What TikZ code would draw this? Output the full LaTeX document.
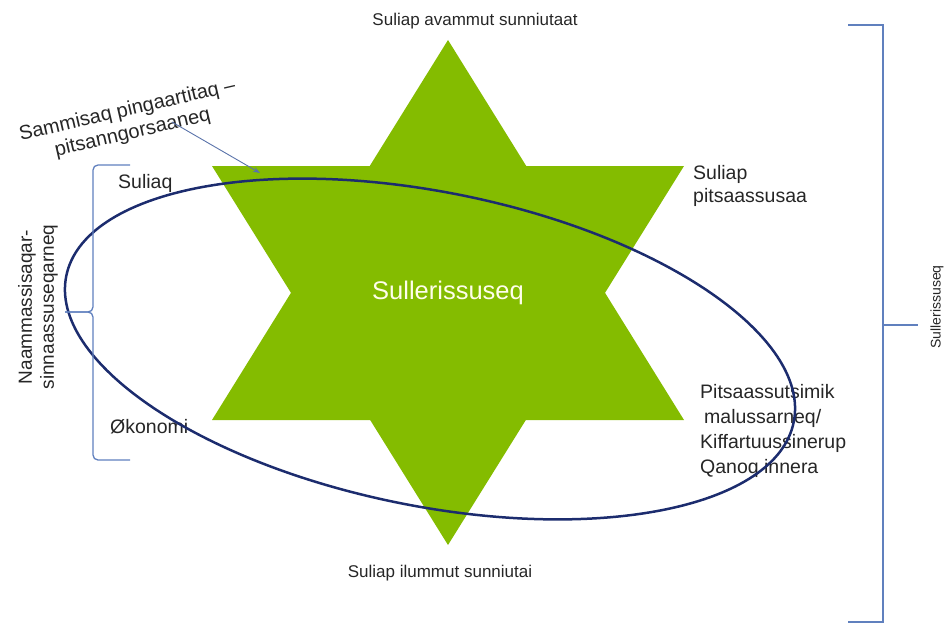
\documentclass[tikz,border=0pt]{standalone}
\usepackage{fontspec}
\setmainfont{Liberation Sans}
\usetikzlibrary{arrows.meta}
\definecolor{stargreen}{RGB}{132,188,0}
\definecolor{ellblue}{RGB}{28,44,110}
\definecolor{brkblue}{RGB}{96,128,190}
\definecolor{arrblue}{RGB}{90,115,170}
\definecolor{txt}{RGB}{38,38,38}
\begin{document}
\begin{tikzpicture}[x=1pt,y=-1pt,
  lbl/.style={inner sep=0pt, text=txt, font=\fontsize{19.5}{24}\selectfont},
  small/.style={inner sep=0pt, text=txt, font=\fontsize{17}{20}\selectfont},
  brk/.style={draw=brkblue, line width=1.3pt},
  pointer/.style={draw=arrblue, line width=0.9pt, -{Stealth[length=7pt,width=5pt]}},
]
\useasboundingbox (0,0) rectangle (948,626);
% star
\fill[stargreen] (448,40) -- (684,420) -- (212,420) -- cycle;
\fill[stargreen] (212,166) -- (684,166) -- (448,545) -- cycle;
% labels
\node[small] (top) at (475,21) {Suliap avammut sunniutaat};
\node[small] (bottom) at (440,573) {Suliap ilummut sunniutai};
\node[lbl, align=left, anchor=west, font=\fontsize{19.5}{23}\selectfont] (quality) at (693,186) {Suliap\\pitsaassusaa};
\node[lbl, align=left, anchor=west, font=\fontsize{19.5}{25}\selectfont] (service) at (700,431) {Pitsaassutsimik\\\hspace{4pt}malussarneq/\\Kiffartuussinerup\\Qanoq innera};
\node[lbl, anchor=west] (suliaq) at (118,183) {Suliaq};
\node[lbl, anchor=west] (okonomi) at (110,427) {Økonomi};
\node[inner sep=0pt, text=white!92!yellow, font=\fontsize{25.5}{30}\selectfont] (core) at (448,293) {Sullerissuseq};
\node[lbl, rotate=90, align=center, font=\fontsize{19}{22}\selectfont] (goal) at (38,307) {Naammassisaqar-\\sinnaassuseqarneq};
\node[small, rotate=90, font=\fontsize{14}{17}\selectfont] (eff) at (937,307) {Sullerissuseq};
\node[lbl, rotate=13, align=center, font=\fontsize{20}{23}\selectfont] (focus) at (130,122) {Sammisaq pingaartitaq –\\pitsanngorsaaneq};
% arrow
\coordinate (astart) at (172,122);
\coordinate (aend) at (260,173);
\draw[pointer] (astart) -- (aend);
% ellipse
\draw[ellblue, line width=2.5pt, shift={(430,349)}, rotate=-11.35] (0,0) ellipse [x radius=371pt, y radius=157pt];
% left brace
\draw[brk, rounded corners=5pt] (130,165) -- (93,165) -- (93,312) -- (65,312);
\draw[brk, rounded corners=5pt] (65,312) -- (93,312) -- (93,460) -- (130,460);
% right bracket
\draw[brk] (848,25) -- (883,25) -- (883,622) -- (848,622);
\draw[brk] (883,325) -- (918,325);
\end{tikzpicture}
\end{document}
